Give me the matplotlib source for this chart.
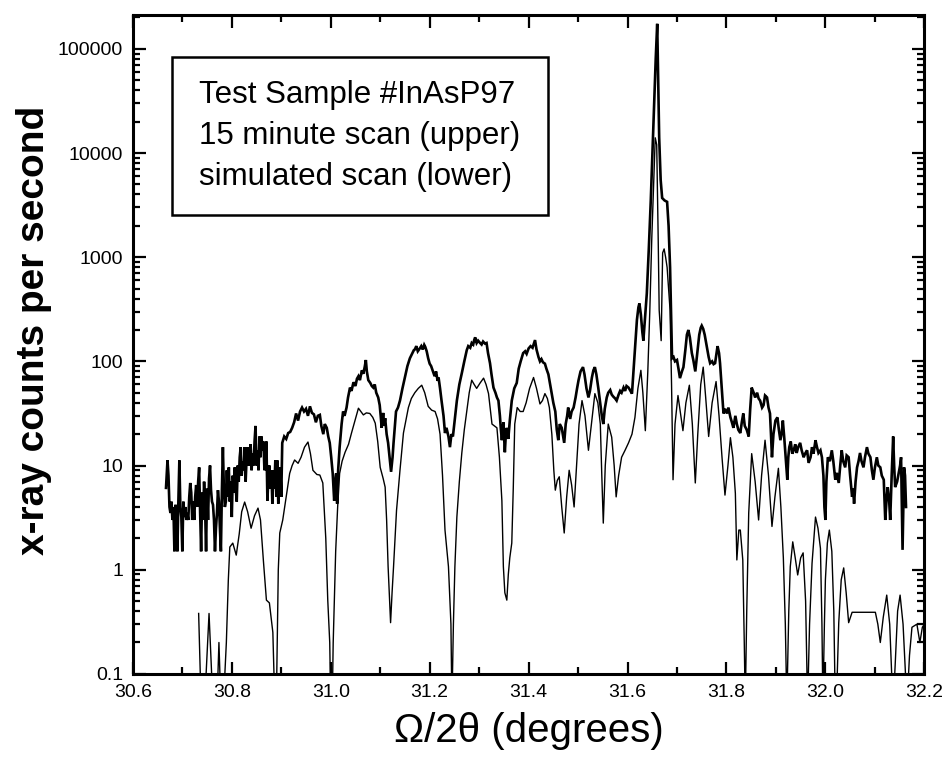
import matplotlib
matplotlib.use("Agg")

import matplotlib.pyplot as plt
import matplotlib.ticker as mticker
from matplotlib.patches import Rectangle

plt.rcParams["font.family"] = ["Liberation Sans", "DejaVu Sans"]

# ── measured 15 minute scan (upper trace) ─────────────────────────────────────
meas_x = [
    30.667, 30.670, 30.672, 30.674, 30.676, 30.678, 30.680, 30.682, 30.684, 30.686,
    30.688, 30.690, 30.692, 30.694, 30.696, 30.698, 30.700, 30.702, 30.704, 30.706,
    30.708, 30.710, 30.712, 30.714, 30.716, 30.718, 30.720, 30.722, 30.724, 30.726,
    30.728, 30.730, 30.732, 30.734, 30.736, 30.738, 30.740, 30.742, 30.744, 30.746,
    30.748, 30.750, 30.752, 30.754, 30.756, 30.758, 30.760, 30.762, 30.764, 30.766,
    30.768, 30.770, 30.772, 30.774, 30.776, 30.778, 30.780, 30.782, 30.784, 30.786,
    30.788, 30.790, 30.792, 30.794, 30.796, 30.798, 30.800, 30.802, 30.804, 30.806,
    30.808, 30.810, 30.812, 30.814, 30.816, 30.818, 30.820, 30.822, 30.824, 30.826,
    30.828, 30.830, 30.832, 30.834, 30.836, 30.838, 30.840, 30.842, 30.844, 30.846,
    30.848, 30.850, 30.852, 30.854, 30.856, 30.858, 30.860, 30.862, 30.864, 30.866,
    30.868, 30.870, 30.872, 30.874, 30.876, 30.878, 30.880, 30.882, 30.884, 30.886,
    30.888, 30.890, 30.892, 30.894, 30.896, 30.898, 30.900, 30.902, 30.906, 30.910,
    30.914, 30.918, 30.922, 30.926, 30.930, 30.934, 30.938, 30.942, 30.946, 30.950,
    30.954, 30.958, 30.962, 30.966, 30.970, 30.974, 30.978, 30.981, 30.985, 30.988,
    30.992, 30.995, 30.998, 31.001, 31.004, 31.007, 31.009, 31.011, 31.013, 31.015,
    31.018, 31.022, 31.025, 31.028, 31.032, 31.035, 31.039, 31.042, 31.046, 31.050,
    31.053, 31.056, 31.059, 31.063, 31.066, 31.069, 31.071, 31.073, 31.076, 31.080,
    31.083, 31.086, 31.089, 31.092, 31.096, 31.099, 31.101, 31.103, 31.106, 31.108,
    31.110, 31.113, 31.116, 31.119, 31.122, 31.125, 31.127, 31.130, 31.132, 31.136,
    31.140, 31.145, 31.150, 31.155, 31.160, 31.165, 31.168, 31.170, 31.173, 31.176,
    31.180, 31.183, 31.186, 31.189, 31.191, 31.194, 31.197, 31.200, 31.203, 31.207,
    31.210, 31.213, 31.216, 31.218, 31.221, 31.224, 31.228, 31.231, 31.234, 31.238,
    31.241, 31.244, 31.247, 31.251, 31.255, 31.260, 31.265, 31.270, 31.275, 31.278,
    31.282, 31.285, 31.288, 31.290, 31.292, 31.295, 31.298, 31.302, 31.305, 31.308,
    31.312, 31.315, 31.318, 31.322, 31.325, 31.329, 31.333, 31.336, 31.339, 31.342,
    31.344, 31.346, 31.349, 31.352, 31.354, 31.356, 31.359, 31.362, 31.366, 31.371,
    31.376, 31.380, 31.384, 31.389, 31.393, 31.396, 31.400, 31.404, 31.408, 31.411,
    31.413, 31.416, 31.420, 31.423, 31.426, 31.429, 31.433, 31.436, 31.440, 31.443,
    31.447, 31.450, 31.454, 31.457, 31.460, 31.463, 31.467, 31.470, 31.472, 31.475,
    31.478, 31.480, 31.484, 31.487, 31.491, 31.495, 31.498, 31.501, 31.505, 31.510,
    31.513, 31.517, 31.521, 31.524, 31.528, 31.531, 31.534, 31.537, 31.541, 31.545,
    31.548, 31.551, 31.554, 31.558, 31.561, 31.565, 31.568, 31.571, 31.575, 31.578,
    31.582, 31.585, 31.588, 31.592, 31.595, 31.598, 31.602, 31.605, 31.609, 31.612,
    31.615, 31.619, 31.622, 31.624, 31.627, 31.630, 31.632, 31.635, 31.639, 31.643,
    31.647, 31.651, 31.654, 31.657, 31.660, 31.662, 31.664, 31.667, 31.670, 31.675,
    31.680, 31.683, 31.686, 31.688, 31.690, 31.693, 31.696, 31.700, 31.703, 31.706,
    31.710, 31.713, 31.717, 31.720, 31.723, 31.726, 31.730, 31.733, 31.737, 31.741,
    31.745, 31.748, 31.750, 31.753, 31.756, 31.760, 31.764, 31.767, 31.771, 31.774,
    31.777, 31.780, 31.782, 31.785, 31.787, 31.790, 31.794, 31.797, 31.801, 31.804,
    31.808, 31.811, 31.814, 31.818, 31.821, 31.824, 31.828, 31.831, 31.834, 31.837,
    31.841, 31.845, 31.848, 31.851, 31.855, 31.858, 31.862, 31.865, 31.868, 31.872,
    31.875, 31.878, 31.882, 31.885, 31.888, 31.890, 31.892, 31.895, 31.899, 31.903,
    31.906, 31.909, 31.912, 31.914, 31.917, 31.919, 31.921, 31.923, 31.925, 31.927,
    31.930, 31.933, 31.936, 31.939, 31.942, 31.945, 31.949, 31.952, 31.956, 31.959,
    31.963, 31.966, 31.970, 31.973, 31.976, 31.980, 31.983, 31.986, 31.990, 31.993,
    31.996, 31.998, 32.000, 32.002, 32.005, 32.009, 32.013, 32.016, 32.020, 32.023,
    32.027, 32.030, 32.033, 32.036, 32.040, 32.043, 32.047, 32.050, 32.054, 32.056,
    32.058, 32.061, 32.064, 32.067, 32.070, 32.073, 32.077, 32.080, 32.084, 32.087,
    32.091, 32.094, 32.097, 32.100, 32.104, 32.107, 32.111, 32.114, 32.118, 32.121,
    32.124, 32.126, 32.129, 32.131, 32.134, 32.137, 32.139, 32.141, 32.145, 32.148,
    32.151, 32.153, 32.156, 32.159, 32.161, 32.163,
]
meas_y = [
    6.1, 11.2, 8, 4.0, 3.5, 4.5, 3.0, 4.0, 1.5, 4.2,
    3.5, 1.5, 4.5, 11.2, 4, 3.2, 1.5, 4.5, 3.2, 4.0,
    3.0, 3.5, 3.0, 5, 6.8, 5.5, 3.0, 4.5, 3.0, 5,
    6.5, 4, 7, 9.6, 3.5, 1.5, 5.5, 3, 7.0, 4,
    1.5, 6, 3, 7.5, 10, 5.8, 4.5, 4.2, 3, 1.5,
    2.5, 3.5, 5.8, 4.5, 2.5, 1.5, 5.8, 15, 6, 4.0,
    4.5, 9, 5, 9.6, 4.5, 7, 3.2, 8, 5.5, 9.6,
    6, 4.5, 10, 7, 12, 15, 8, 11, 9, 15,
    7, 12, 15, 10, 12, 16, 9, 13, 10, 17,
    24, 10, 14, 9, 19, 12, 19, 14, 17, 9,
    10, 17, 4.6, 7.8, 10, 6, 9, 4.3, 9, 6,
    11.2, 5, 11.2, 4.3, 8, 9.6, 5, 16.5, 19, 18,
    20.5, 21, 23, 26, 31.6, 27, 33, 36, 33, 35,
    30, 37, 32, 31, 26, 30, 30.6, 24, 20, 25,
    23, 19, 16.5, 12, 8.4, 4.6, 7, 8.4, 4.3, 9,
    15, 25, 33, 30, 36, 45, 56, 52, 63, 58,
    68, 72, 66, 82, 76, 90, 103, 80, 66, 62,
    58, 56, 60, 50, 45, 38, 30, 23, 32, 24,
    28.5, 20, 16.5, 12, 8.7, 12, 16.5, 25, 33, 36,
    42, 55, 70, 90, 107, 120, 128, 130, 140, 125,
    133, 140, 130, 144, 138, 125, 107, 95, 90, 79,
    72, 80, 65, 70, 55, 42, 30, 20.5, 23, 19,
    15, 20, 19, 28, 42, 60, 77, 100, 128, 140,
    135, 150, 145, 160, 170, 150, 158, 150, 145, 155,
    148, 150, 120, 96, 75, 56, 50, 45, 42, 30,
    22, 17.5, 26, 13.4, 20, 23, 18, 27, 42, 55,
    62, 85, 100, 120, 125, 118, 133, 140, 135, 150,
    160, 130, 110, 100, 105, 98, 95, 85, 75, 62,
    48, 40, 33, 22, 17.5, 25, 23, 19, 16.5, 25,
    30, 36, 28, 33, 36, 45, 55, 66, 80, 88,
    75, 55, 45, 52, 70, 82, 88, 75, 55, 39,
    30, 25, 35, 45, 50, 53, 48, 46, 44, 42,
    48, 52, 50, 56, 52, 58, 56, 53, 49, 80,
    130, 250, 330, 360, 280, 190, 158, 250, 450, 1200,
    3500, 12000, 30000, 80000, 174000, 50000, 14000, 5500, 3700, 3500,
    3400, 2000, 800, 300, 107, 110, 100, 103, 85, 69,
    80, 88, 130, 180, 200, 170, 120, 103, 80, 120,
    180, 210, 220, 205, 180, 140, 110, 96, 100, 94,
    96, 120, 140, 120, 96, 60, 31.6, 35, 31.6, 36,
    29, 26, 23, 30, 25, 22, 20.5, 26, 31.6, 24,
    22, 19, 35, 56, 50, 45, 50, 44, 42, 36,
    38, 47, 45, 36, 31.6, 20, 12, 20, 27, 29,
    22, 17.5, 21, 27, 18, 13.2, 10, 7.3, 12, 15,
    17, 13, 14, 16, 13.2, 15, 16.5, 14, 12, 13,
    14, 10.6, 12, 15, 13, 17.5, 15, 13.2, 14, 12,
    8, 4, 3.0, 7, 12, 11, 14, 11, 7.3, 8.5,
    6.8, 10, 14, 11, 9.6, 12.5, 12, 8, 5.0, 6,
    4.3, 7, 9.6, 11, 13.2, 11, 9.6, 12, 15, 13,
    12, 9, 7.3, 9.5, 12, 10, 9.6, 8, 7.3, 3.0,
    5, 6.2, 4.5, 3.0, 8, 19, 10, 6.2, 7, 8.4,
    10, 12, 1.55, 9.6, 8, 4.0,
]

# ── simulated scan (lower trace) ──────────────────────────────────────────────
sim_x = [
    30.733, 30.738, 30.745, 30.754, 30.762, 30.770, 30.774, 30.778, 30.785, 30.789,
    30.793, 30.796, 30.802, 30.809, 30.815, 30.820, 30.826, 30.832, 30.839, 30.846,
    30.853, 30.858, 30.864, 30.870, 30.876, 30.883, 30.887, 30.890, 30.894, 30.897,
    30.903, 30.910, 30.917, 30.922, 30.927, 30.934, 30.940, 30.947, 30.954, 30.959,
    30.964, 30.972, 30.978, 30.984, 30.990, 30.994, 30.998, 31.000, 31.003, 31.005,
    31.010, 31.014, 31.018, 31.023, 31.029, 31.036, 31.042, 31.050, 31.056, 31.061,
    31.066, 31.072, 31.079, 31.085, 31.090, 31.095, 31.100, 31.106, 31.110, 31.113,
    31.116, 31.121, 31.124, 31.127, 31.133, 31.140, 31.147, 31.157, 31.163, 31.170,
    31.177, 31.184, 31.190, 31.197, 31.204, 31.211, 31.216, 31.221, 31.226, 31.231,
    31.238, 31.243, 31.245, 31.248, 31.251, 31.255, 31.260, 31.265, 31.270, 31.275,
    31.280, 31.285, 31.290, 31.295, 31.302, 31.309, 31.314, 31.319, 31.323, 31.326,
    31.331, 31.336, 31.341, 31.346, 31.349, 31.352, 31.356, 31.359, 31.362, 31.366,
    31.369, 31.372, 31.377, 31.383, 31.389, 31.395, 31.402, 31.410, 31.416, 31.423,
    31.428, 31.433, 31.438, 31.442, 31.447, 31.451, 31.454, 31.458, 31.462, 31.467,
    31.472, 31.477, 31.482, 31.487, 31.492, 31.497, 31.502, 31.508, 31.514, 31.521,
    31.527, 31.534, 31.540, 31.545, 31.548, 31.551, 31.555, 31.561, 31.568, 31.573,
    31.577, 31.582, 31.588, 31.595, 31.602, 31.609, 31.615, 31.621, 31.627, 31.631,
    31.636, 31.641, 31.645, 31.649, 31.652, 31.656, 31.659, 31.662, 31.664, 31.668,
    31.671, 31.674, 31.677, 31.680, 31.686, 31.689, 31.692, 31.696, 31.702, 31.707,
    31.712, 31.718, 31.725, 31.731, 31.737, 31.742, 31.748, 31.753, 31.758, 31.764,
    31.771, 31.779, 31.785, 31.791, 31.797, 31.803, 31.808, 31.813, 31.818, 31.821,
    31.825, 31.828, 31.833, 31.836, 31.838, 31.841, 31.845, 31.851, 31.858, 31.865,
    31.871, 31.878, 31.885, 31.892, 31.898, 31.905, 31.910, 31.915, 31.919, 31.922,
    31.926, 31.929, 31.934, 31.939, 31.944, 31.950, 31.955, 31.960, 31.964, 31.968,
    31.973, 31.980, 31.985, 31.990, 31.993, 31.995, 31.998, 32.000, 32.004, 32.008,
    32.013, 32.017, 32.020, 32.024, 32.027, 32.032, 32.037, 32.042, 32.047, 32.054,
    32.101, 32.106, 32.111, 32.117, 32.124, 32.130, 32.134, 32.137, 32.141, 32.146,
    32.151, 32.157, 32.162, 32.165, 32.170, 32.175, 32.185, 32.191, 32.196, 32.200,
]
sim_y = [
    0.38, 0.05, 0.05, 0.38, 0.05, 0.05, 0.2, 0.05, 0.08, 0.2,
    0.8, 1.65, 1.8, 1.38, 2.2, 3.6, 4.46, 3.6, 2.5, 3.3,
    3.9, 3.0, 1.2, 0.51, 0.48, 0.25, 0.05, 0.05, 1.0, 2.25,
    3.0, 5.0, 8.4, 10, 11.3, 10.5, 12, 15, 16.8, 13,
    9.0, 8.2, 8.1, 6.8, 2.0, 0.51, 0.2, 0.05, 0.05, 0.2,
    1.5, 4, 8.4, 11, 13.4, 16, 20.5, 28, 35.5, 33,
    30.6, 32, 31.6, 29, 25.5, 17, 9.6, 7.5, 6.2, 3,
    1.07, 0.31, 0.6, 1.07, 3.7, 9, 20.5, 36, 44, 50,
    55, 59, 50, 37, 34, 33, 28, 20, 8, 2.4,
    1.07, 0.3, 0.05, 0.3, 1.07, 3.2, 7, 13.2, 22, 33,
    50, 66, 60, 55, 62, 69, 60, 49, 33, 25,
    24, 23, 12, 4.6, 1.07, 0.6, 0.51, 0.9, 1.3, 1.8,
    6, 25, 36, 33, 33, 40, 55, 70, 55, 39,
    42, 49, 44, 36, 20, 9, 5.8, 7.2, 7.8, 4,
    2.25, 5, 9.0, 6.5, 4.0, 10, 25, 42, 30, 14,
    25, 49, 40, 25, 8, 2.8, 10, 25, 18.7, 10,
    5.0, 8, 12, 14, 16.5, 20, 29, 55, 82, 50,
    21.6, 80, 300, 1500, 4000, 14000, 12000, 1500, 310, 158,
    1100, 1200, 1000, 800, 310, 60, 7.3, 25, 47, 32,
    21.6, 40, 59, 25, 6.8, 20, 60, 88, 45, 19,
    40, 64, 30, 12, 5.2, 10, 18.5, 12, 5.4, 1.24,
    2.4, 2.4, 1.24, 0.2, 0.05, 0.4, 3.5, 13, 7, 3.0,
    8, 17.5, 8, 2.6, 5, 9.4, 4, 1.3, 0.3, 0.05,
    0.4, 1.07, 1.85, 1.3, 0.89, 1.3, 1.45, 0.5, 0.05, 0.3,
    1.15, 3.2, 2.5, 1.6, 0.3, 0.05, 0.3, 0.8, 1.8, 2.4,
    1.5, 0.4, 0.05, 0.1, 0.31, 0.8, 1.04, 0.6, 0.31, 0.39,
    0.39, 0.3, 0.2, 0.35, 0.57, 0.3, 0.1, 0.05, 0.12, 0.4,
    0.57, 0.3, 0.1, 0.05, 0.15, 0.28, 0.3, 0.2, 0.28, 0.3,
]

x_ticks = [30.6, 30.8, 31.0, 31.2, 31.4, 31.6, 31.8, 32.0, 32.2]
y_ticks = [0.1, 1, 10, 100, 1000, 10000, 100000]
legend_lines = [
    "Test Sample #InAsP97",
    "15 minute scan (upper)",
    "simulated scan (lower)",
]

fig = plt.figure(figsize=(9.49, 7.64), dpi=100)
ax = fig.add_axes([0.140, 0.118, 0.834, 0.862])

ax.plot(meas_x, meas_y, color="black", lw=1.9, solid_joinstyle="miter")
ax.plot(sim_x, sim_y, color="black", lw=1.0)

ax.set_yscale("log")
ax.set_xlim(30.6, 32.2)
ax.set_ylim(0.1, 2.1e5)

ax.set_xticks(x_ticks)
ax.xaxis.set_major_formatter(mticker.FuncFormatter(lambda v, _: f"{v:.1f}"))
ax.xaxis.set_minor_locator(mticker.MultipleLocator(0.1))
ax.set_yticks(y_ticks)
ax.yaxis.set_major_formatter(mticker.FuncFormatter(lambda v, _: f"{v:g}"))
ax.yaxis.set_minor_locator(mticker.LogLocator(base=10, subs=range(2, 10), numticks=20))
ax.yaxis.set_minor_formatter(mticker.NullFormatter())

ax.tick_params(which="both", direction="in", top=True, right=True, width=1.6)
ax.tick_params(which="major", length=9, labelsize=14, pad=7)
ax.tick_params(which="minor", length=5)
for sp in ax.spines.values():
    sp.set_linewidth(2.2)

ax.set_ylabel("x-ray counts per second", fontsize=28, fontweight="bold")
ax.yaxis.set_label_coords(-0.102, 0.522)
ax.set_xlabel("Ω/2θ (degrees)", fontsize=29, labelpad=8)

# info box
ax.add_patch(Rectangle((0.049, 0.697), 0.476, 0.239, transform=ax.transAxes,
                       fill=False, lw=1.8, ec="black", zorder=5))
ax.text(0.287, 0.816, "\n".join(legend_lines), transform=ax.transAxes,
        ha="center", va="center", multialignment="left", fontsize=22.5,
        linespacing=1.48, zorder=6)

fig.savefig("out.png", dpi=100)
